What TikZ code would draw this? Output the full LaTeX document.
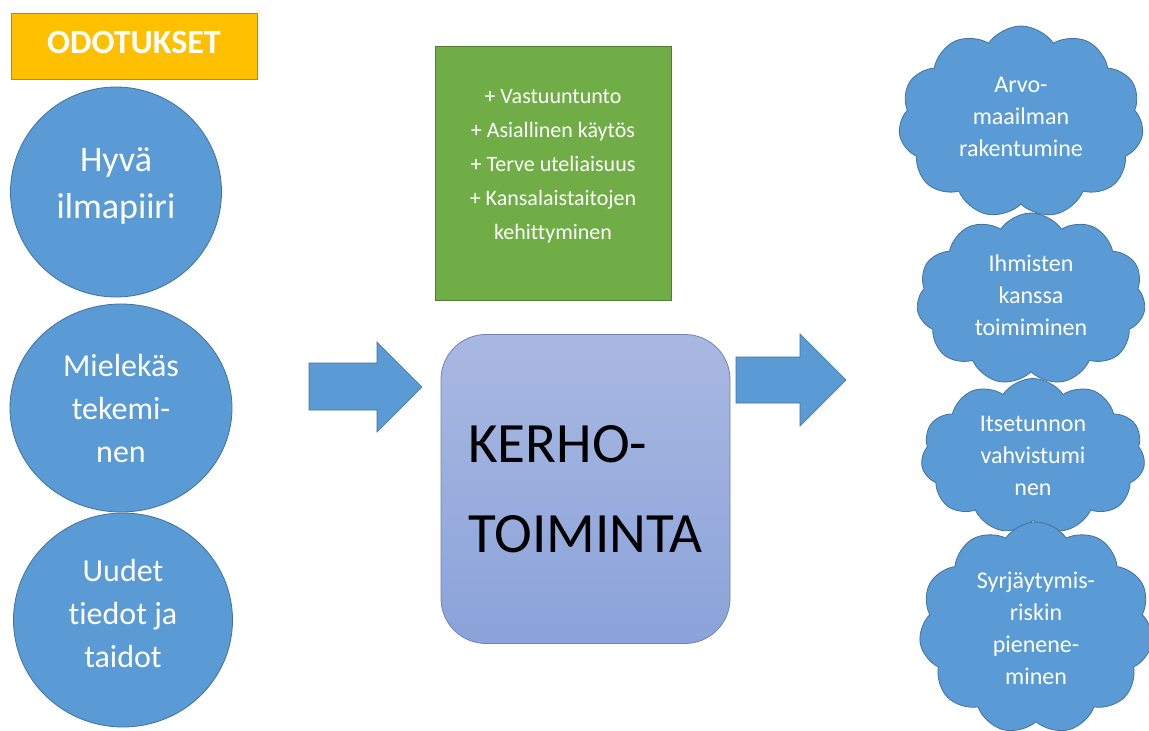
\documentclass[tikz,border=0pt]{standalone}
\usepackage{fontspec}
\setmainfont{Carlito}[Ligatures=NoCommon]
\usetikzlibrary{shapes.geometric,shapes.symbols}
\definecolor{oblue}{HTML}{5B9BD5}
\definecolor{oblueline}{HTML}{41719C}
\definecolor{ogreen}{HTML}{70AD47}
\definecolor{ogreenline}{HTML}{507E32}
\definecolor{ogold}{HTML}{FFC000}
\definecolor{ogoldline}{HTML}{BC8C00}
\definecolor{kerhotop}{HTML}{A9B8E1}
\definecolor{kerhobot}{HTML}{8BA3DA}
\definecolor{kerholine}{HTML}{6F83B8}
\begin{document}
\begin{tikzpicture}[x=1pt,y=-1pt,
 bubble/.style={ellipse, fill=oblue, draw=oblueline, line width=0.8pt, text=white, align=center, inner sep=0pt},
 puff/.style={cloud, cloud puffs=11, cloud puff arc=112, cloud ignores aspect, fill=oblue, draw=oblueline, line width=0.8pt, text=white, align=center, inner sep=0pt, font=\fontsize{24}{32}\selectfont},
 blockarrow/.style={fill=oblue, draw=oblueline, line width=0.6pt}]
\useasboundingbox (0,0) rectangle (1149,731);
\clip (0,0) rectangle (1149,731);
\fill[white] (0,0) rectangle (1149,731);

\node[fill=ogold, draw=ogoldline, line width=0.8pt, minimum width=246pt, minimum height=66pt, inner sep=0pt, text=white, text depth=7pt, font=\bfseries\fontsize{34}{40}\selectfont] (odotukset) at (134,46) {ODOTUKSET};

\node[bubble, minimum width=211pt, minimum height=210pt, text depth=17pt, font=\fontsize{36}{47}\selectfont] (hyva) at (116,192) {Hyvä\\ilmapiiri};
\node[bubble, minimum width=222pt, minimum height=208pt, font=\fontsize{32}{43}\selectfont] (mielekas) at (121,408) {Mielekäs\\tekemi-\\nen};
\node[bubble, minimum width=219pt, minimum height=214pt, text depth=14pt, font=\fontsize{32}{43}\selectfont] (uudet) at (123,620) {Uudet\\tiedot ja\\taidot};

\node[fill=ogreen, draw=ogreenline, line width=0.8pt, minimum width=236pt, minimum height=254pt, inner sep=0pt, text=white, align=center, text depth=17pt, font=\fontsize{22}{34}\selectfont] (green) at (553,173) {+ Vastuuntunto\\+ Asiallinen käytös\\+ Terve uteliaisuus\\+ Kansalaistaitojen\\kehittyminen};

\node[rounded corners=45pt, minimum width=289pt, minimum height=309pt, inner sep=0pt, top color=kerhotop, bottom color=kerhobot, draw=kerholine, line width=0.8pt, align=left, font=\fontsize{57}{90}\selectfont] (kerho) at (585.5,489) {KERHO-\\TOIMINTA};

\draw[blockarrow] (309,363) -- (377,363) -- (377,342) -- (422,387) -- (377,432) -- (377,410) -- (309,410) -- cycle;
\draw[blockarrow] (736,357) -- (800,357) -- (800,334) -- (846,380) -- (800,426) -- (800,403) -- (736,403) -- cycle;

\node[puff, minimum width=245pt, minimum height=192pt, text depth=10pt] (arvo) at (1021,122) {Arvo-\\maailman\\rakentumine};
\node[puff, minimum width=229pt, minimum height=172pt, text depth=8pt] (ihmisten) at (1031,299) {Ihmisten\\kanssa\\toimiminen};
\node[puff, minimum width=224pt, minimum height=155pt] (itse) at (1033,456) {Itsetunnon\\vahvistumi\\nen};
\node[puff, minimum width=234pt, minimum height=212pt] (syrja) at (1036,628) {Syrjäytymis-\\riskin\\pienene-\\minen};
\end{tikzpicture}
\end{document}
